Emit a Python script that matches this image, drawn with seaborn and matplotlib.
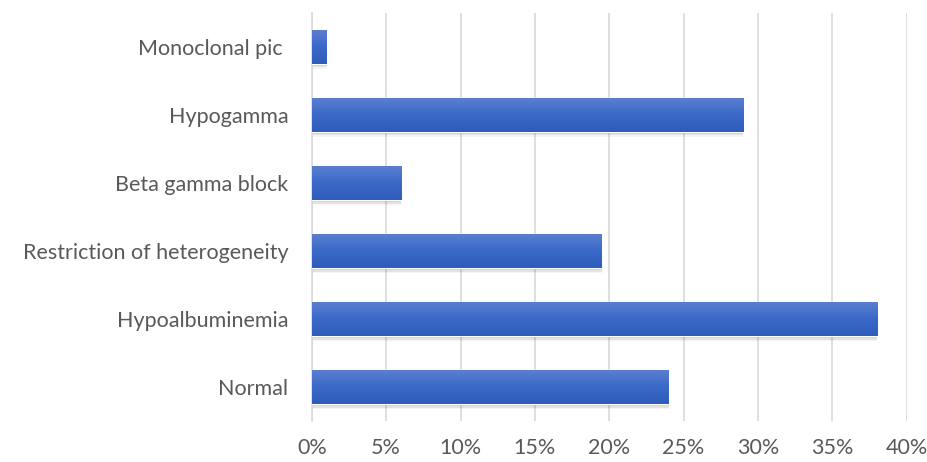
import matplotlib
matplotlib.use("Agg")
import matplotlib.pyplot as plt
import seaborn as sns
import numpy as np
import pandas as pd
from matplotlib.colors import LinearSegmentedColormap
from matplotlib.patches import Rectangle
from matplotlib.ticker import PercentFormatter

categories = ["Monoclonal pic ", "Hypogamma", "Beta gamma block",
              "Restriction of heterogeneity", "Hypoalbuminemia", "Normal"]
values = [1, 29, 6, 19.5, 38, 24]
xticks = [0, 5, 10, 15, 20, 25, 30, 35, 40]

sns.set_theme(style="white")
plt.rcParams['font.family'] = ['Lato', 'DejaVu Sans']

df = pd.DataFrame({"cat": categories, "val": values})

fig = plt.figure(figsize=(9.28, 4.62), dpi=100)
ax = fig.add_axes([0.336, 0.088, 0.641, 0.884])

sns.barplot(data=df, y="cat", x="val", orient="h", color="#3d6bc9",
            width=0.5, ax=ax, zorder=3)

cmap = LinearSegmentedColormap.from_list("g", ["#5c80d0", "#3b69c8", "#2e5cbb"])
grad = np.linspace(0, 1, 256).reshape(-1, 1)
for p in list(ax.patches):
    x0, y0 = p.get_x(), p.get_y()
    w, h = p.get_width(), p.get_height()
    # soft shadow below
    for k, a in enumerate([0.10, 0.07, 0.04]):
        d = 0.025 * (k + 1)
        sh = Rectangle((x0 + 0.02, y0 + d), w, h, facecolor="#000000",
                       alpha=a, edgecolor="none", zorder=2)
        ax.add_patch(sh)
    im = ax.imshow(grad, cmap=cmap, aspect="auto",
                   extent=[x0, x0 + w, y0 + h, y0], zorder=4,
                   interpolation="bicubic")
    im.set_clip_path(p)

ax.set_xlim(0, 40)
ax.set_ylim(len(categories) - 0.5, -0.5)
ax.set_xticks(xticks)
ax.xaxis.set_major_formatter(PercentFormatter(decimals=0))
ax.grid(axis="x", color="#d9d9d9", linewidth=1.2, zorder=0)
ax.set_axisbelow(True)
for s in ["top", "right", "bottom"]:
    ax.spines[s].set_visible(False)
ax.spines["left"].set_color("#d9d9d9")
ax.spines["left"].set_linewidth(1.2)
ax.set_xlabel("")
ax.set_ylabel("")
ax.tick_params(axis="both", length=0, labelsize=15.5, colors="#595959")
ax.tick_params(axis="y", pad=17)
ax.tick_params(axis="x", pad=12)

fig.savefig("out.png", dpi=100)
